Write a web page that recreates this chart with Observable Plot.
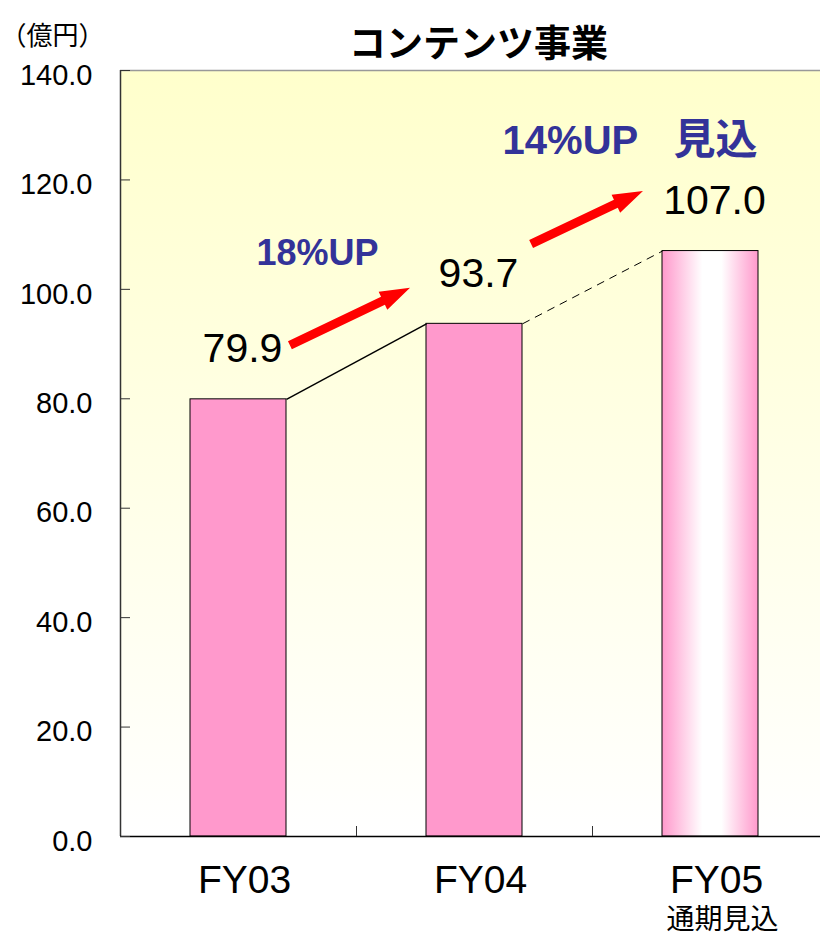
<!DOCTYPE html>
<html><head><meta charset="utf-8">
<script src="https://cdn.jsdelivr.net/npm/d3@7"></script>
<script src="https://cdn.jsdelivr.net/npm/@observablehq/plot@0.6"></script>
<style>body{margin:0;background:#fff}</style>
</head><body><div id="chart"></div>
<script>
// ---- data ----
const categories = ["FY03", "FY04", "FY05"];
const values = [79.9, 93.7, 107.0];
const valueLabels = ["79.9", "93.7", "107.0"];
const isForecast = [false, false, true];
const subLabels = ["", "", "通期見込"];
const yTicks = [0, 20, 40, 60, 80, 100, 120, 140];
const yTickLabels = ["0.0", "20.0", "40.0", "60.0", "80.0", "100.0", "120.0", "140.0"];
const growthLabels = ["18%UP", "14%UP"];
const forecastNote = "見込";
const title = "コンテンツ事業";
const unitLabel = "（億円）";
// annotation anchors: x in category-index units, y in 億円
const growthLabelAnchors = [[0.835, 104.4], [1.619, 124.8]];
const forecastNoteAnchor = [2.343, 124.8];
const arrowTails = [[0.720, 89.7], [1.742, 108.2]];
const arrowTips = [[1.229, 100.2], [2.216, 117.9]];

// ---- layout/style ----
const BAR_HALF = 0.2034;
const FONT = "'Liberation Sans', Arial, 'Noto Sans CJK JP', sans-serif";
const CJK = "'Noto Sans CJK JP', sans-serif";
const BAR_COLOR = "#FF99CC";
const NOTE_COLOR = "#333399";

const rows = categories.map((c, i) => ({c, i, v: values[i], label: valueLabels[i], forecast: isForecast[i], sub: subLabels[i]}));
const links = rows.slice(0, -1).map((d, i) => ({
  x1: d.i + 0.5 + BAR_HALF, y1: d.v,
  x2: rows[i + 1].i + 0.5 - BAR_HALF, y2: rows[i + 1].v,
  dashed: rows[i + 1].forecast
}));
const yLabelRows = yTicks.map((t, i) => ({t, s: yTickLabels[i]}));

const defsMark = () => {
  const g = d3.create("svg:g");
  const defs = g.append("defs");
  const bg = defs.append("linearGradient").attr("id", "bgGrad")
    .attr("x1", 0).attr("y1", 0).attr("x2", 0).attr("y2", 1);
  bg.append("stop").attr("offset", "0%").attr("stop-color", "#FFFFCC");
  bg.append("stop").attr("offset", "100%").attr("stop-color", "#FFFFFF");
  const bar = defs.append("linearGradient").attr("id", "barGrad")
    .attr("x1", 0).attr("y1", 0).attr("x2", 1).attr("y2", 0);
  bar.append("stop").attr("offset", "0%").attr("stop-color", BAR_COLOR);
  bar.append("stop").attr("offset", "42%").attr("stop-color", "#FFFFFF");
  bar.append("stop").attr("offset", "62%").attr("stop-color", "#FFFFFF");
  bar.append("stop").attr("offset", "100%").attr("stop-color", BAR_COLOR);
  return g.node();
};

const arrowMark = (index, scales) => {
  const g = d3.create("svg:g");
  arrowTails.forEach((t, k) => {
    const h = arrowTips[k];
    const x0 = scales.x(t[0]), y0 = scales.y(t[1]);
    const x1 = scales.x(h[0]), y1 = scales.y(h[1]);
    const len = Math.hypot(x1 - x0, y1 - y0);
    const ux = (x1 - x0) / len, uy = (y1 - y0) / len;
    const nx = -uy, ny = ux;
    const hl = 30, hw = 10, sw = 4.5;
    const bx = x1 - ux * hl, by = y1 - uy * hl;
    const pts = [
      [x0 + nx * sw, y0 + ny * sw], [bx + nx * sw, by + ny * sw], [bx + nx * hw, by + ny * hw],
      [x1, y1],
      [bx - nx * hw, by - ny * hw], [bx - nx * sw, by - ny * sw], [x0 - nx * sw, y0 - ny * sw]
    ];
    g.append("path").attr("d", "M" + pts.map(p => p.join(",")).join("L") + "Z").attr("fill", "#FF0000");
  });
  return g.node();
};

const chart = Plot.plot({
  width: 820,
  height: 936,
  marginLeft: 120,
  marginRight: -8,
  marginTop: 70,
  marginBottom: 100,
  style: {fontFamily: FONT, background: "#fff", overflow: "visible"},
  x: {domain: [0, 3], axis: null},
  y: {domain: [0, 140], axis: null},
  marks: [
    defsMark,
    Plot.frame({fill: "url(#bgGrad)", stroke: "none"}),
    Plot.ruleY([140], {stroke: "#999", strokeWidth: 1.5}),
    // bars
    Plot.rect(rows.filter(d => !d.forecast), {
      x1: d => d.i + 0.5 - BAR_HALF, x2: d => d.i + 0.5 + BAR_HALF, y1: 0, y2: "v",
      fill: BAR_COLOR, stroke: "#000", strokeWidth: 1
    }),
    Plot.rect(rows.filter(d => d.forecast), {
      x1: d => d.i + 0.5 - BAR_HALF, x2: d => d.i + 0.5 + BAR_HALF, y1: 0, y2: "v",
      fill: "url(#barGrad)", stroke: "#000", strokeWidth: 1
    }),
    // connectors
    Plot.link(links.filter(d => !d.dashed), {x1: "x1", y1: "y1", x2: "x2", y2: "y2", stroke: "#000", strokeWidth: 1.5}),
    Plot.link(links.filter(d => d.dashed), {x1: "x1", y1: "y1", x2: "x2", y2: "y2", stroke: "#000", strokeWidth: 1, strokeDasharray: "8,6"}),
    // axes
    Plot.ruleX([0], {stroke: "#333", strokeWidth: 1.5}),
    Plot.ruleY([0], {stroke: "#000", strokeWidth: 1.5}),
    Plot.axisY(yTicks, {tickSize: -10, fill: "none", label: null, stroke: "#333"}),
    Plot.axisX([1, 2], {tickSize: -10, fill: "none", label: null, stroke: "#333"}),
    Plot.text(yLabelRows, {x: 0, y: "t", text: "s", dx: -28, dy: 5, textAnchor: "end", fontSize: 29, fill: "#000"}),
    // category labels
    Plot.text(rows, {x: d => d.i + 0.5, y: 0, text: "c", dx: 6, dy: 56, lineAnchor: "bottom", fontSize: 39, fill: "#000"}),
    Plot.text(rows.filter(d => d.sub), {x: d => d.i + 0.5, y: 0, text: "sub", dx: 12, dy: 92, lineAnchor: "bottom", fontSize: 28, fontFamily: CJK, fill: "#000"}),
    // value labels
    Plot.text(rows, {x: d => d.i + 0.5, y: "v", text: "label", dx: 4, dy: -37, lineAnchor: "bottom", fontSize: 41, fill: "#000"}),
    // arrows
    arrowMark,
    // growth notes
    Plot.text([growthLabels[0]], {x: growthLabelAnchors[0][0], y: growthLabelAnchors[0][1], text: d => d, lineAnchor: "bottom", textAnchor: "middle", fontSize: 36, fontWeight: "bold", fill: NOTE_COLOR}),
    Plot.text([growthLabels[1]], {x: growthLabelAnchors[1][0], y: growthLabelAnchors[1][1], text: d => d, lineAnchor: "bottom", textAnchor: "start", fontSize: 40, fontWeight: "bold", fill: NOTE_COLOR}),
    Plot.text([forecastNote], {x: forecastNoteAnchor[0], y: forecastNoteAnchor[1], text: d => d, lineAnchor: "bottom", textAnchor: "start", fontSize: 42, fontWeight: "bold", fontFamily: CJK, fill: NOTE_COLOR}),
    // title & unit
    Plot.text([title], {frameAnchor: "top", text: d => d, dx: 4, dy: -40, fontSize: 37, fontWeight: "bold", fontFamily: CJK, fill: "#000"}),
    Plot.text([unitLabel], {frameAnchor: "top-left", text: d => d, dx: -120, dy: -44, textAnchor: "start", fontSize: 26, fontFamily: CJK, fill: "#000"})
  ]
});
document.getElementById("chart").appendChild(chart);
</script>
</body></html>
